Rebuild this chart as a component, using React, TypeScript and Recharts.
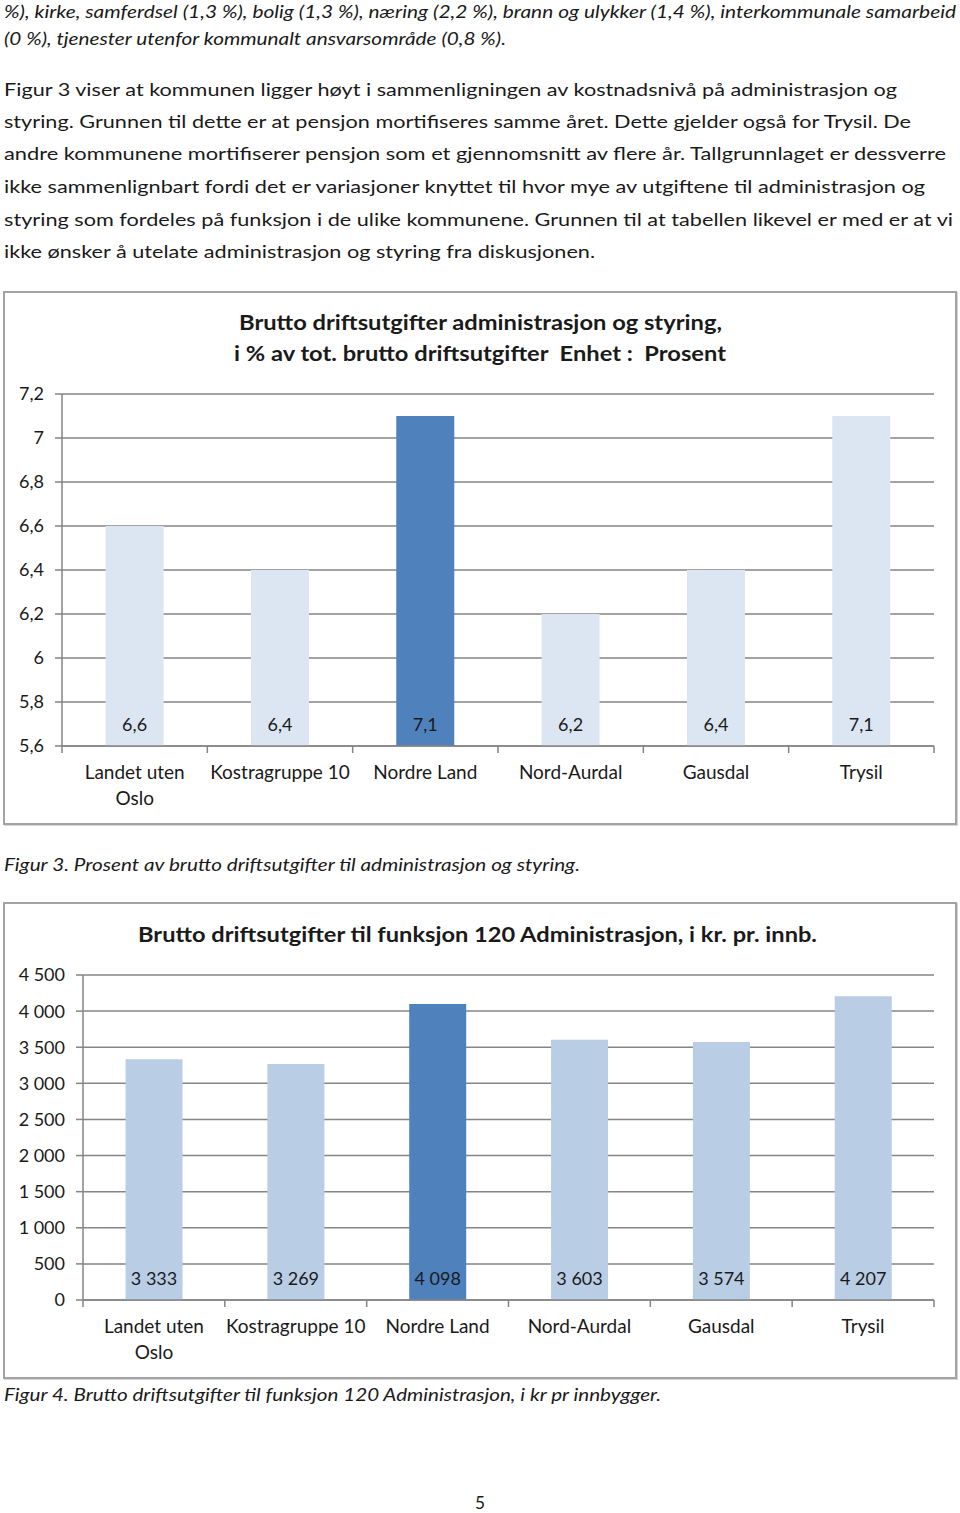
import React from 'react'
import { Bar, BarChart, CartesianGrid, XAxis, YAxis, Cell, LabelList } from 'recharts'

// categories shared by both charts
const categories = ['Landet uten\nOslo', 'Kostragruppe 10', 'Nordre Land', 'Nord-Aurdal', 'Gausdal', 'Trysil']
const highlighted = 'Nordre Land'

// Figur 3: admin share of gross operating costs (%)
const adminShare = [6.6, 6.4, 7.1, 6.2, 6.4, 7.1]
const shareTicks = [5.6, 5.8, 6, 6.2, 6.4, 6.6, 6.8, 7, 7.2]

// Figur 4: function 120 Administrasjon, NOK per inhabitant
const adminPerCapita = [3333, 3269, 4098, 3603, 3574, 4207]
const kroneTicks = [0, 500, 1000, 1500, 2000, 2500, 3000, 3500, 4000, 4500]

const FONT = 'Lato, "Open Sans", sans-serif'
const GRID = '#858585'

const comma = (v: number) => String(v).replace('.', ',')
const spaced = (v: number) => String(v).replace(/\B(?=(\d{3})+(?!\d))/g, ' ')

// page text, one entry per rendered line
const pageLines = [
  { t: '%), kirke, samferdsel (1,3 %), bolig (1,3 %), næring (2,2 %), brann og ulykker (1,4 %), interkommunale samarbeid', x: 4, w: 952, y: 18, italic: true },
  { t: '(0 %), tjenester utenfor kommunalt ansvarsområde (0,8 %).', x: 4, w: 502, y: 45, italic: true },
  { t: 'Figur 3 viser at kommunen ligger høyt i sammenligningen av kostnadsnivå på administrasjon og', x: 4, w: 893, y: 96 },
  { t: 'styring. Grunnen til dette er at pensjon mortifiseres samme året. Dette gjelder også for Trysil. De', x: 4, w: 907, y: 128 },
  { t: 'andre kommunene mortifiserer pensjon som et gjennomsnitt av flere år. Tallgrunnlaget er dessverre', x: 4, w: 942, y: 160 },
  { t: 'ikke sammenlignbart fordi det er variasjoner knyttet til hvor mye av utgiftene til administrasjon og', x: 4, w: 921, y: 193 },
  { t: 'styring som fordeles på funksjon i de ulike kommunene. Grunnen til at tabellen likevel er med er at vi', x: 4, w: 949, y: 226 },
  { t: 'ikke ønsker å utelate administrasjon og styring fra diskusjonen.', x: 4, w: 591, y: 258 },
  { t: 'Brutto driftsutgifter administrasjon og styring,', x: 239, w: 483, y: 330, bold: true, size: 21 },
  { t: 'i % av tot. brutto driftsutgifter  Enhet :  Prosent', x: 234, w: 492, y: 361, bold: true, size: 21 },
  { t: 'Figur 3. Prosent av brutto driftsutgifter til administrasjon og styring.', x: 4, w: 576, y: 871, italic: true },
  { t: 'Brutto driftsutgifter til funksjon 120 Administrasjon, i kr. pr. innb.', x: 138, w: 679, y: 942, bold: true, size: 21 },
  { t: 'Figur 4. Brutto driftsutgifter til funksjon 120 Administrasjon, i kr pr innbygger.', x: 4, w: 657, y: 1401, italic: true },
  { t: '5', x: 475, w: 10, y: 1509 },
]

function CategoryTick(props: any) {
  const { x, y, payload, index, step, count } = props
  const lines = String(payload.value).split('\n')
  const left = x - step / 2
  return (
    <g>
      <line x1={left} y1={y} x2={left} y2={y + 7} stroke={GRID} strokeWidth={1.5} />
      {index === count - 1 && (
        <line x1={x + step / 2} y1={y} x2={x + step / 2} y2={y + 7} stroke={GRID} strokeWidth={1.5} />
      )}
      {lines.map((l, i) => (
        <text key={i} x={x} y={y + 33 + i * 26} textAnchor="middle" fontSize={19} fill="#1a1a1a" fontFamily={FONT}>
          {l}
        </text>
      ))}
    </g>
  )
}

interface ChartProps {
  left: number
  top: number
  width: number
  height: number
  plotLeft: number
  plotTop: number
  values: number[]
  domain: [number, number]
  ticks: number[]
  format: (v: number) => string
  light: string
}

function AdminChart({ left, top, width, height, plotLeft, plotTop, values, domain, ticks, format, light }: ChartProps) {
  const data = categories.map((name, i) => ({ name, value: values[i] }))
  const right = 23
  const step = (width - plotLeft - right) / categories.length
  return (
    <>
      <div
        style={{
          position: 'absolute',
          left,
          top,
          width,
          height,
          boxSizing: 'border-box',
          border: '2px solid #a3a3a3',
          boxShadow: '1px 1px 0 #d6d6d6',
        }}
      />
      <div style={{ position: 'absolute', left, top }}>
        <BarChart
          width={width}
          height={height}
          data={data}
          margin={{ top: plotTop, right, left: 0, bottom: 0 }}
          barCategoryGap="30%"
        >
          <CartesianGrid vertical={false} stroke={GRID} strokeWidth={1.5} />
          <XAxis
            dataKey="name"
            height={79}
            axisLine={{ stroke: GRID, strokeWidth: 1.5 }}
            tickLine={false}
            tickSize={0}
            tickMargin={0}
            interval={0}
            tick={(p: any) => <CategoryTick {...p} step={step} count={categories.length} />}
          />
          <YAxis
            width={plotLeft}
            domain={domain}
            ticks={ticks}
            interval={0}
            allowDataOverflow
            tickFormatter={format}
            axisLine={{ stroke: GRID, strokeWidth: 1.5 }}
            tickLine={{ stroke: GRID, strokeWidth: 1.5 }}
            tickSize={7}
            tickMargin={11}
            tick={{ fontSize: 18, fill: '#1a1a1a', fontFamily: FONT }}
          />
          <Bar dataKey="value" isAnimationActive={false}>
            {data.map((d, i) => (
              <Cell key={`cell-${i}`} fill={d.name === highlighted ? '#4f81bd' : light} />
            ))}
            <LabelList
              dataKey="value"
              position="insideBottom"
              offset={15}
              formatter={(v: any) => format(Number(v))}
              style={{ fontSize: 18, fill: '#1a1a1a', fontFamily: FONT }}
            />
          </Bar>
        </BarChart>
      </div>
    </>
  )
}

export default function App() {
  return (
    <div style={{ position: 'absolute', left: 0, top: 0, width: 960, height: 1513, background: '#fff', overflow: 'hidden' }}>
      <AdminChart
        left={3}
        top={291}
        width={954}
        height={534}
        plotLeft={59}
        plotTop={103}
        values={adminShare}
        domain={[5.6, 7.2]}
        ticks={shareTicks}
        format={comma}
        light="#dce6f2"
      />
      <AdminChart
        left={3}
        top={902}
        width={954}
        height={477}
        plotLeft={80}
        plotTop={73}
        values={adminPerCapita}
        domain={[0, 4500]}
        ticks={kroneTicks}
        format={spaced}
        light="#b9cde5"
      />
      <svg width={960} height={1513} style={{ position: 'absolute', left: 0, top: 0, pointerEvents: 'none' }}>
        {pageLines.map((l, i) => (
          <text
            key={i}
            x={l.x}
            y={l.y}
            textLength={l.w}
            lengthAdjust="spacingAndGlyphs"
            fontSize={l.size ?? 18}
            fontStyle={l.italic ? 'italic' : 'normal'}
            fontWeight={l.bold ? 700 : 400}
            fontFamily={FONT}
            fill="#1a1a1a"
            style={{ whiteSpace: 'pre' }}
          >
            {l.t}
          </text>
        ))}
      </svg>
    </div>
  )
}
